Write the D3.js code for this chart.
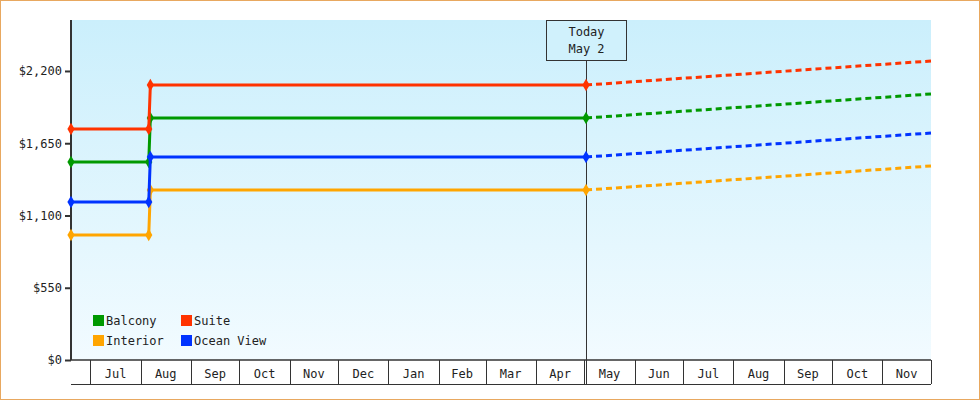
<!DOCTYPE html><html><head><script src="https://cdn.jsdelivr.net/npm/d3@7"></script>
<style>body{margin:0}svg{display:block}text{font-family:"DejaVu Sans Mono",monospace;font-size:12px;fill:#222}</style></head><body>
<svg id="c" width="980" height="400"></svg>
<script>
const seriesNames=["Balcony","Suite","Interior","Ocean View"];
const colors=["#009900","#ff3300","#ffa500","#0033ff"];
const histDates=["2023-06-19","2023-08-06","2023-08-07","2024-05-02"];
const histValues=[[1507,1507,1842,1842],[1758,1758,2093,2093],[952,952,1294,1294],[1203,1203,1545,1545]];
const fcDates=["2024-05-02","2024-12-01"];
const fcValues=[[1842,2025],[2093,2276],[1294,1477],[1545,1728]];
const yTicks=[0,550,1100,1650,2200];
const todayLabel=["Today","May 2"];
const p=d3.timeParse("%Y-%m-%d");
const svg=d3.select("#c");
const L=71,R=931,T=20,B=360;
svg.append("rect").attr("x",0.5).attr("y",0.5).attr("width",979).attr("height",399).attr("fill","#fff").attr("stroke","#e8a860");
const g=svg.append("defs").append("linearGradient").attr("id","bg").attr("x1",0).attr("x2",0).attr("y1",0).attr("y2",1);
g.append("stop").attr("offset",0).attr("stop-color","#cbeffc");g.append("stop").attr("offset",1).attr("stop-color","#f2fbff");
svg.append("rect").attr("x",L).attr("y",T).attr("width",R-L).attr("height",B-T).attr("fill","url(#bg)");
const x=d3.scaleTime().domain([p("2023-06-19"),p("2024-12-01")]).range([L,R]);
const y=d3.scaleLinear().domain([0,2588]).range([B,T]);
// y axis
const ya=svg.append("g").attr("transform",`translate(${L},0)`).call(d3.axisLeft(y).tickValues(yTicks).tickFormat(d=>"$"+d3.format(",")(d)).tickSize(6).tickPadding(3));
ya.select(".domain").attr("d",`M0,${T}V${B}`).attr("stroke","#333").attr("stroke-width",2);
ya.selectAll(".tick line").attr("stroke","#333").attr("stroke-width",2);
ya.selectAll("text").attr("font-family",null).attr("font-size",null);
// x axis
const months=d3.timeMonth.range(p("2023-07-01"),p("2024-12-01"));
const xa=svg.append("g");
xa.append("line").attr("x1",L).attr("x2",R).attr("y1",B).attr("y2",B).attr("stroke","#333").attr("stroke-width",1.5);
xa.append("line").attr("x1",L).attr("x2",R).attr("y1",384.5).attr("y2",384.5).attr("stroke","#333");
const edges=months.concat([p("2024-12-01")]);
xa.selectAll("line.t").data(edges).join("line").attr("class","t").attr("x1",d=>Math.round(x(d))+0.5).attr("x2",d=>Math.round(x(d))+0.5).attr("y1",B).attr("y2",384).attr("stroke","#333");
xa.selectAll("text").data(months).join("text").attr("x",d=>(x(d)+x(d3.timeMonth.offset(d,1)))/2).attr("y",378).attr("text-anchor","middle").text(d3.timeFormat("%b"));
// today
const tx=Math.round(x(p("2024-05-02")))+0.5;
svg.append("line").attr("x1",tx).attr("x2",tx).attr("y1",60).attr("y2",384).attr("stroke","#333");
svg.append("rect").attr("x",tx-40).attr("y",20.5).attr("width",80).attr("height",40).attr("fill","#d0f1fc").attr("stroke","#333");
todayLabel.forEach((t,i)=>svg.append("text").attr("x",tx).attr("y",36+i*17).attr("text-anchor","middle").text(t));
// lines
const line=d3.line().x(d=>x(d[0])).y(d=>y(d[1]));
seriesNames.forEach((n,i)=>{
  const h=histDates.map((d,j)=>[p(d),histValues[i][j]]);
  svg.append("path").attr("d",line(h)).attr("fill","none").attr("stroke",colors[i]).attr("stroke-width",3);
  const f=fcDates.map((d,j)=>[p(d),fcValues[i][j]]);
  svg.append("path").attr("d",line(f)).attr("fill","none").attr("stroke",colors[i]).attr("stroke-width",3).attr("stroke-dasharray","6,4");
  svg.selectAll(null).data(h).join("path").attr("transform",d=>`translate(${x(d[0])},${y(d[1])})`).attr("d",d3.symbol(d3.symbolDiamond,45)).attr("fill",colors[i]);
});
// legend
const lg=[[0,0],[88,0],[0,20],[88,20]];
seriesNames.forEach((n,i)=>{
  const gx=93+lg[i][0],gy=315+lg[i][1];
  svg.append("rect").attr("x",gx).attr("y",gy).attr("width",11).attr("height",11).attr("fill",colors[i]);
  svg.append("text").attr("x",gx+13).attr("y",gy+10).text(n);
});
</script></body></html>
